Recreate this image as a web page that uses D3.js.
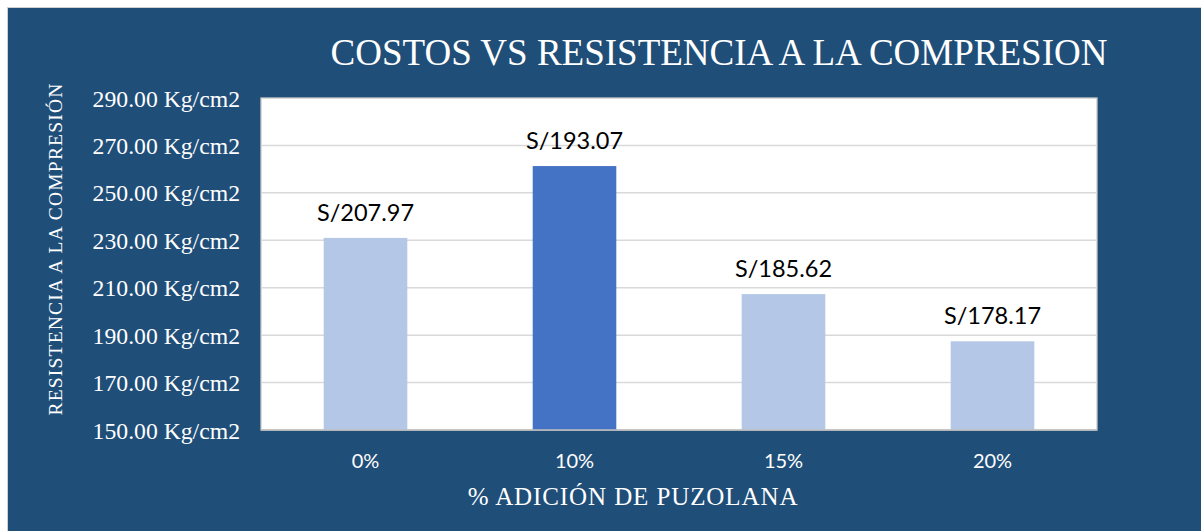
<!DOCTYPE html>
<html>
<head>
<meta charset="utf-8">
<script src="https://cdn.jsdelivr.net/npm/d3@7"></script>
<style>
  body { margin: 0; background: #fff; }
  svg { display: block; }
</style>
</head>
<body>
<div id="chart"></div>
<script>
// datos
var categorias = ["0%", "10%", "15%", "20%"];
var resistencia = [231.0, 261.3, 207.3, 187.4];
var costos = ["S/207.97", "S/193.07", "S/185.62", "S/178.17"];
var yTicks = [150, 170, 190, 210, 230, 250, 270, 290];
var destacado = "10%";

var W = 1201, H = 531;
var plot = {left: 261, top: 98, right: 1097, bottom: 430};

var svg = d3.select("#chart").append("svg")
	.attr("width", W).attr("height", H);

// fondo azul con borde gris
svg.append("rect")
	.attr("x", 7.5).attr("y", 7.5)
	.attr("width", W).attr("height", H)
	.attr("fill", "#1F4E79")
	.attr("stroke", "#D0D0D0").attr("stroke-width", 1);

var x = d3.scaleBand()
	.domain(categorias)
	.range([plot.left, plot.right])
	.paddingInner(0.6)
	.paddingOuter(0.3);

var y = d3.scaleLinear()
	.domain([150, 290])
	.range([plot.bottom, plot.top]);

// area de trazado
svg.append("rect")
	.attr("x", plot.left).attr("y", plot.top)
	.attr("width", plot.right - plot.left)
	.attr("height", plot.bottom - plot.top)
	.attr("fill", "#fff")
	.attr("stroke", "#C8C8C8").attr("stroke-width", 1.3);

// lineas de cuadricula
svg.append("g").selectAll("line")
	.data(yTicks.slice(1, -1))
	.enter().append("line")
	.attr("x1", plot.left).attr("x2", plot.right)
	.attr("y1", function(d) { return y(d); })
	.attr("y2", function(d) { return y(d); })
	.attr("stroke", "#D9D9D9").attr("stroke-width", 1.5);

// barras
var datos = categorias.map(function(c, i) {
	return {cat: c, val: resistencia[i], label: costos[i]};
});

svg.append("g").selectAll("rect")
	.data(datos)
	.enter().append("rect")
	.attr("x", function(d) { return x(d.cat); })
	.attr("width", x.bandwidth())
	.attr("y", function(d) { return y(d.val); })
	.attr("height", function(d) { return y(150) - y(d.val); })
	.attr("fill", function(d) { return d.cat == destacado ? "#4472C4" : "#B4C7E7"; });

// eje x (linea inferior)
svg.append("line")
	.attr("x1", plot.left).attr("x2", plot.right)
	.attr("y1", plot.bottom).attr("y2", plot.bottom)
	.attr("stroke", "#BFBFBF").attr("stroke-width", 1.5);

// etiquetas de datos
svg.append("g").selectAll("text")
	.data(datos)
	.enter().append("text")
	.attr("x", function(d) { return x(d.cat) + x.bandwidth() / 2; })
	.attr("y", function(d) { return y(d.val) - 17; })
	.attr("text-anchor", "middle")
	.attr("font-family", "Lato, 'Open Sans', sans-serif")
	.attr("font-size", "23.5px")
	.attr("fill", "#000")
	.text(function(d) { return d.label; });

// etiquetas de categoria
svg.append("g").selectAll("text")
	.data(categorias)
	.enter().append("text")
	.attr("x", function(d) { return x(d) + x.bandwidth() / 2; })
	.attr("y", 468)
	.attr("text-anchor", "middle")
	.attr("font-family", "Lato, 'Open Sans', sans-serif")
	.attr("font-size", "20px")
	.attr("fill", "#fff")
	.text(function(d) { return d; });

// etiquetas eje y
svg.append("g").selectAll("text")
	.data(yTicks)
	.enter().append("text")
	.attr("x", 240)
	.attr("y", function(d) { return y(d) + 8.5; })
	.attr("text-anchor", "end")
	.attr("font-family", "'Liberation Serif', 'Times New Roman', serif")
	.attr("font-size", "23.7px")
	.attr("fill", "#fff")
	.text(function(d) { return d3.format(".2f")(d) + " Kg/cm2"; });

// titulo
svg.append("text")
	.attr("x", 719).attr("y", 65)
	.attr("text-anchor", "middle")
	.attr("font-family", "'Liberation Serif', 'Times New Roman', serif")
	.attr("font-size", "37px")
	.attr("fill", "#fff")
	.text("COSTOS VS RESISTENCIA A LA COMPRESION");

// titulo eje x
svg.append("text")
	.attr("x", 633).attr("y", 505)
	.attr("text-anchor", "middle")
	.attr("font-family", "'Liberation Serif', 'Times New Roman', serif")
	.attr("font-size", "25px")
	.attr("letter-spacing", "0.9px")
	.attr("fill", "#fff")
	.text("% ADICIÓN DE PUZOLANA");

// titulo eje y
svg.append("text")
	.attr("transform", "translate(62,249) rotate(-90)")
	.attr("text-anchor", "middle")
	.attr("font-family", "'Liberation Serif', 'Times New Roman', serif")
	.attr("font-size", "19.5px")
	.attr("letter-spacing", "1.2px")
	.attr("fill", "#fff")
	.text("RESISTENCIA A LA COMPRESIÓN");
</script>
</body>
</html>
